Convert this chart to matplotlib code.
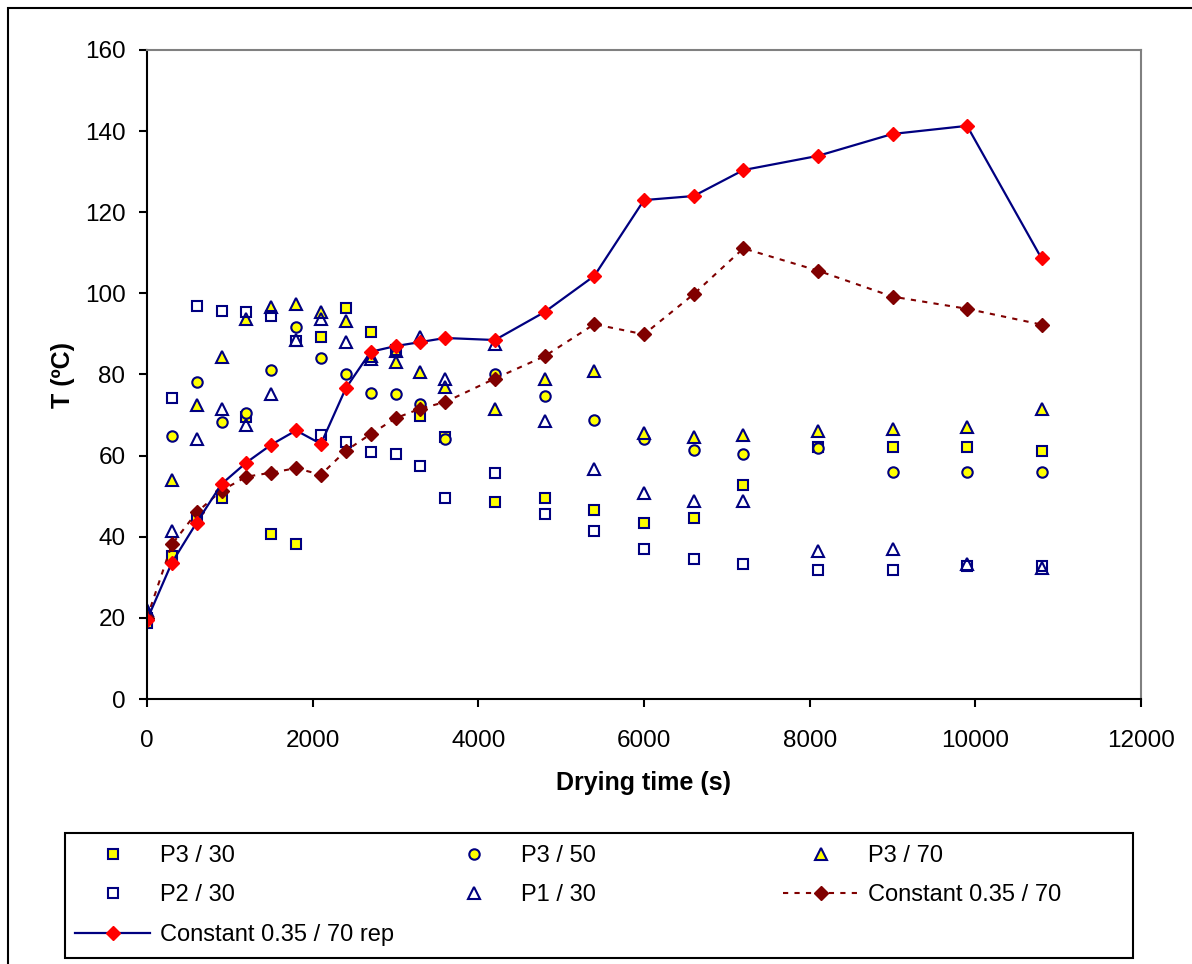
import matplotlib
matplotlib.use("Agg")
import matplotlib.pyplot as plt
from matplotlib.patches import Rectangle

plt.rcParams["font.family"] = ["Liberation Sans", "DejaVu Sans"]

# drying time (s)
t = [0, 300, 600, 900, 1200, 1500, 1800, 2100, 2400, 2700, 3000, 3300,
     3600, 4200, 4800, 5400, 6000, 6600, 7200, 8100, 9000, 9900, 10800]

# temperatures (deg C)
p3_30 = [18.7, 35.3, 44.7, 49.5, 69.5, 40.6, 38.1, 89.3, 96.3, 90.4, 86.0, 69.8,
         64.7, 48.5, 49.5, 46.6, 43.5, 44.5, 52.8, 62.2, 62.2, 62.2, 61.2]
p3_50 = [20.0, 64.8, 78.1, 68.2, 70.6, 81.1, 91.8, 84.0, 80.0, 75.5, 75.1, 72.7,
         64.2, 80.1, 74.6, 68.8, 64.2, 61.4, 60.3, 61.8, 55.9, 55.9, 55.9]
p3_70 = [21.1, 54.0, 72.5, 84.4, 93.6, 96.7, 97.4, 95.5, 93.3, 84.5, 83.2, 80.5,
         76.8, 71.6, 78.9, 80.9, 65.6, 64.5, 65.1, 66.1, 66.6, 67.1, 71.5]
p2_30 = [20.0, 74.1, 96.9, 95.7, 95.3, 94.4, 88.3, 65.2, 63.3, 60.8, 60.4, 57.4,
         49.5, 55.8, 45.5, 41.5, 37.1, 34.6, 33.3, 31.8, 31.8, 32.8, 32.8]
p1_30 = [22.0, 41.5, 64.1, 71.6, 67.6, 75.1, 88.4, 93.6, 87.9, 83.8, 85.8, 89.3,
         78.9, 87.6, 68.6, 56.7, 50.7, 48.9, 48.9, 36.5, 36.9, 33.4, 32.2]
const = [20.0, 38.1, 46.0, 51.4, 54.8, 55.8, 56.9, 55.3, 61.2, 65.3, 69.2, 71.6,
         73.2, 79.0, 84.5, 92.4, 89.9, 99.8, 111.1, 105.6, 99.2, 96.2, 92.3]
const_rep = [19.5, 33.6, 43.5, 53.0, 58.3, 62.7, 66.2, 62.9, 76.6, 85.6, 87.0, 88.0,
             89.0, 88.5, 95.4, 104.3, 123.0, 124.0, 130.4, 133.9, 139.3, 141.3, 108.6]

navy = "#000080"
yellow = "#FFFF00"
W, H = 1192, 964

fig = plt.figure(figsize=(W / 100, H / 100), dpi=100)
ax = fig.add_axes([147 / W, 1 - 699 / H, (1141 - 147) / W, (699 - 50) / H])

mk = dict(linestyle="none", markeredgecolor=navy, markeredgewidth=1.5)
h1, = ax.plot(t, p3_30, marker="s", ms=7.5, markerfacecolor=yellow, label="P3 / 30", **mk)
h2, = ax.plot(t, p3_50, marker="o", ms=7.5, markerfacecolor=yellow, label="P3 / 50", **mk)
h3, = ax.plot(t, p3_70, marker="^", ms=9, markerfacecolor=yellow, label="P3 / 70", **mk)
h4, = ax.plot(t, p2_30, marker="s", ms=7.5, markerfacecolor="none", label="P2 / 30", **mk)
h5, = ax.plot(t, p1_30, marker="^", ms=9, markerfacecolor="none", label="P1 / 30", **mk)
h6, = ax.plot(t, const, color="#800000", lw=1.5, ls=(0, (2.5, 3)), marker="D", ms=7,
              markerfacecolor="#800000", markeredgecolor="#800000",
              label="Constant 0.35 / 70")
h7, = ax.plot(t, const_rep, color=navy, lw=1.6, marker="D", ms=7.5,
              markerfacecolor="#FF0000", markeredgecolor="#FF0000",
              label="Constant 0.35 / 70 rep")

ax.set_xlim(0, 12000)
ax.set_ylim(0, 160)
ax.set_xticks(range(0, 12001, 2000))
ax.set_yticks(range(0, 161, 20))
ax.tick_params(labelsize=17.5, direction="out", length=6, width=1.5, color="black")
ax.tick_params(axis="x", pad=16)
ax.tick_params(axis="y", pad=9.5)
for s in ["left", "bottom"]:
    ax.spines[s].set_linewidth(1.5)
    ax.spines[s].set_color("black")
for s in ["top", "right"]:
    ax.spines[s].set_linewidth(1.5)
    ax.spines[s].set_color("#808080")
ax.set_xlabel("Drying time (s)", fontsize=18, fontweight="bold", labelpad=14)
ax.set_ylabel("T (ºC)", fontsize=18, fontweight="bold", labelpad=7)

# outer chart frame and legend frame
fig.add_artist(Rectangle((8 / W, -0.05), 1.1, 1 - 8 / H + 0.05, transform=fig.transFigure,
                         fill=False, edgecolor="black", lw=1.5))
fig.add_artist(Rectangle((65 / W, 1 - 958 / H), (1133 - 65) / W, (958 - 833) / H,
                         transform=fig.transFigure, fill=False, edgecolor="black", lw=1.5))

leg_kw = dict(loc="upper left", frameon=False, fontsize=17, handlelength=3.18,
              handletextpad=0.44, labelspacing=0.74, borderpad=0, borderaxespad=0)
cols = [([h1, h4, h7], 75), ([h2, h5], 436), ([h3, h6], 783)]
for handles, x0 in cols:
    fig.legend(handles=handles, bbox_to_anchor=(x0 / W, 1 - 845 / H), **leg_kw)

fig.savefig("out.png", dpi=100)
